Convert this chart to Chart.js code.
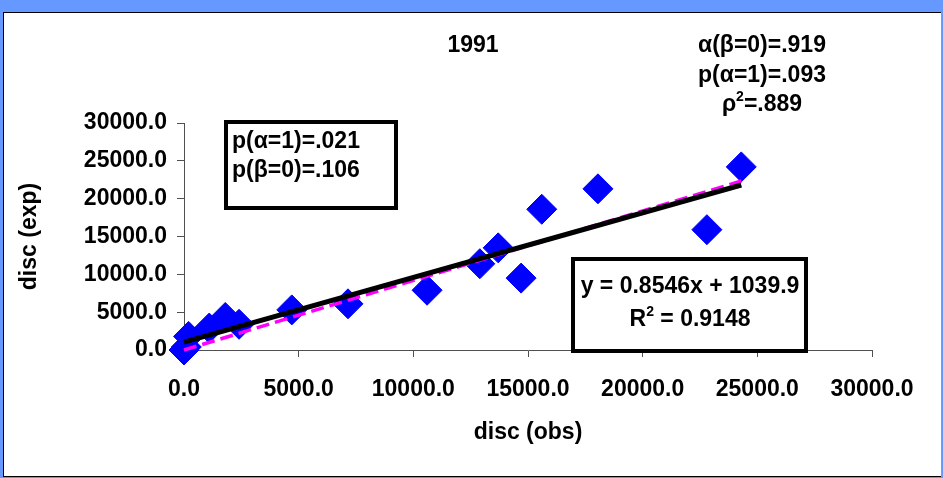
<!DOCTYPE html>
<html>
<head>
<meta charset="utf-8">
<script src="https://cdn.jsdelivr.net/npm/chart.js@4/dist/chart.umd.min.js"></script>
<style>
  html, body { margin: 0; padding: 0; background: #6699ff; overflow: hidden; }
  canvas { display: block; }
</style>
</head>
<body>
<canvas id="chart" width="943" height="478"></canvas>
<script>
// observed vs expected discharge, 1991
const discObs = [0, 100, 200, 1100, 1800, 2400, 4700, 7150, 10600, 12900, 13700, 14700, 15600, 18050, 22800, 24300];
const discExp = [0, 400, 1800, 2900, 4300, 3400, 5300, 6100, 7900, 11400, 13500, 9500, 18600, 21300, 15900, 24200];
const axisTicks = [0, 5000, 10000, 15000, 20000, 25000, 30000];

// fitted line (Excel trendline) and no-intercept line alpha(beta=0)
const fitSlope = 0.8546;
const fitIntercept = 1039.9;
const alphaNoIntercept = 0.919;

const chartTitle = '1991';
const statsRight = ['α(β=0)=.919', 'p(α=1)=.093', 'ρ²=.889'];
const statsBox = ['p(α=1)=.021', 'p(β=0)=.106'];
const fitLabel = 'y = 0.8546x + 1039.9';
const r2Label = 'R² = 0.9148';

const FONT = '"Liberation Sans", Arial, sans-serif';
const FS = 23;
const AXIS = '#505050';

const xMin = Math.min(...discObs), xMax = Math.max(...discObs);
const fitLine = [xMin, xMax].map(x => ({ x, y: fitSlope * x + fitIntercept }));
const alphaLine = [xMin, xMax].map(x => ({ x, y: alphaNoIntercept * x }));

// centred text where '²' is drawn as a raised small "2"
function supText(ctx, text, cx, cy) {
  const [a, b] = text.split('²');
  const big = `bold ${FS}px ${FONT}`, small = `bold ${Math.round(FS * 0.62)}px ${FONT}`;
  ctx.font = big;
  const wa = ctx.measureText(a).width, wb = ctx.measureText(b).width;
  ctx.font = small;
  const ws = ctx.measureText('2').width;
  let x = cx - (wa + ws + wb) / 2;
  ctx.textAlign = 'left';
  ctx.font = big;   ctx.fillText(a, x, cy);
  ctx.font = small; ctx.fillText('2', x + wa, cy - 8);
  ctx.font = big;   ctx.fillText(b, x + wa + ws, cy);
  ctx.textAlign = 'center';
}

// ── panel background + annotation boxes ─────────────────────────────
const panel = {
  id: 'panel',
  beforeDraw(chart) {
    const ctx = chart.ctx;
    ctx.save();
    ctx.fillStyle = '#6699ff';
    ctx.fillRect(0, 0, 943, 478);
    ctx.fillStyle = '#fff';
    ctx.fillRect(3, 12, 939, 465);
    ctx.strokeStyle = '#000';
    ctx.lineWidth = 1;
    ctx.strokeRect(3.5, 12.5, 938, 464);
    ctx.strokeStyle = '#999';
    ctx.beginPath(); ctx.moveTo(941.5, 12); ctx.lineTo(941.5, 477); ctx.stroke();
    ctx.restore();
  },
  afterDatasetsDraw(chart) {
    const ctx = chart.ctx;
    ctx.save();
    ctx.font = `bold ${FS}px ${FONT}`;
    ctx.fillStyle = '#000';
    ctx.textBaseline = 'middle';
    ctx.textAlign = 'center';
    ctx.fillText(chartTitle, 473, 46);
    statsRight.forEach((t, i) => {
      if (t.includes('²')) supText(ctx, t, 762, 46 + i * 29.5);
      else { ctx.font = `bold ${FS}px ${FONT}`; ctx.fillText(t, 762, 46 + i * 29.5); }
    });

    // left box
    ctx.lineWidth = 4;
    ctx.strokeStyle = '#000';
    ctx.fillStyle = '#fff';
    ctx.fillRect(226, 122, 170, 86);
    ctx.strokeRect(226, 122, 170, 86);
    ctx.fillStyle = '#000';
    ctx.textAlign = 'left';
    ctx.font = `bold ${FS}px ${FONT}`;
    statsBox.forEach((t, i) => ctx.fillText(t, 232, 142 + i * 29));

    // trendline label box
    ctx.fillStyle = '#fff';
    ctx.fillRect(573, 259, 233, 92);
    ctx.strokeRect(573, 259, 233, 92);
    ctx.fillStyle = '#000';
    ctx.textAlign = 'center';
    ctx.fillText(fitLabel, 690, 287);
    supText(ctx, r2Label, 690, 320);
    ctx.restore();
  }
};

const tickFont = { family: FONT, size: FS, weight: 'bold' };
const fmt = v => Number(v).toFixed(1);

new Chart(document.getElementById('chart'), {
  type: 'scatter',
  data: {
    datasets: [
      {
        label: 'fit',
        data: fitLine,
        showLine: true,
        borderColor: '#000',
        borderWidth: 5,
        pointRadius: 0,
        order: 0,
        clip: false,
      },
      {
        label: 'alpha',
        data: alphaLine,
        showLine: true,
        borderColor: '#ff00ff',
        borderWidth: 3.5,
        borderDash: [13, 6],
        pointRadius: 0,
        order: 1,
        clip: false,
      },
      {
        label: 'disc',
        data: discObs.map((x, i) => ({ x, y: discExp[i] })),
        pointStyle: 'rectRot',
        pointRadius: 15,
        backgroundColor: '#0000ff',
        borderColor: '#0000ff',
        borderWidth: 1,
        order: 2,
        clip: false,
      },
    ],
  },
  options: {
    responsive: false,
    animation: false,
    devicePixelRatio: 1,
    layout: { padding: { top: 123, right: 71, left: 0, bottom: 0 } },
    plugins: { legend: { display: false }, tooltip: { enabled: false } },
    scales: {
      x: {
        type: 'linear',
        min: 0, max: 30000,
        afterBuildTicks: s => { s.ticks = axisTicks.map(v => ({ value: v })); },
        afterFit: s => { s.height = 128; },
        grid: { drawOnChartArea: false, drawTicks: true, tickLength: 7, color: AXIS },
        border: { color: AXIS, width: 1 },
        ticks: { font: tickFont, color: '#000', padding: 19, maxRotation: 0, callback: fmt },
        title: { display: true, text: 'disc (obs)', font: tickFont, color: '#000', padding: { bottom: 32 } },
      },
      y: {
        type: 'linear',
        min: 0, max: 30000,
        afterBuildTicks: s => { s.ticks = axisTicks.map(v => ({ value: v })); },
        afterFit: s => { s.width = 184; },
        grid: { drawOnChartArea: false, drawTicks: true, tickLength: 7, color: AXIS },
        border: { color: AXIS, width: 1 },
        ticks: { font: tickFont, color: '#000', padding: 10, callback: fmt },
        title: { display: true, text: 'disc (exp)', font: tickFont, color: '#000', padding: { top: 16 } },
      },
    },
  },
  plugins: [panel],
});
</script>
</body>
</html>
